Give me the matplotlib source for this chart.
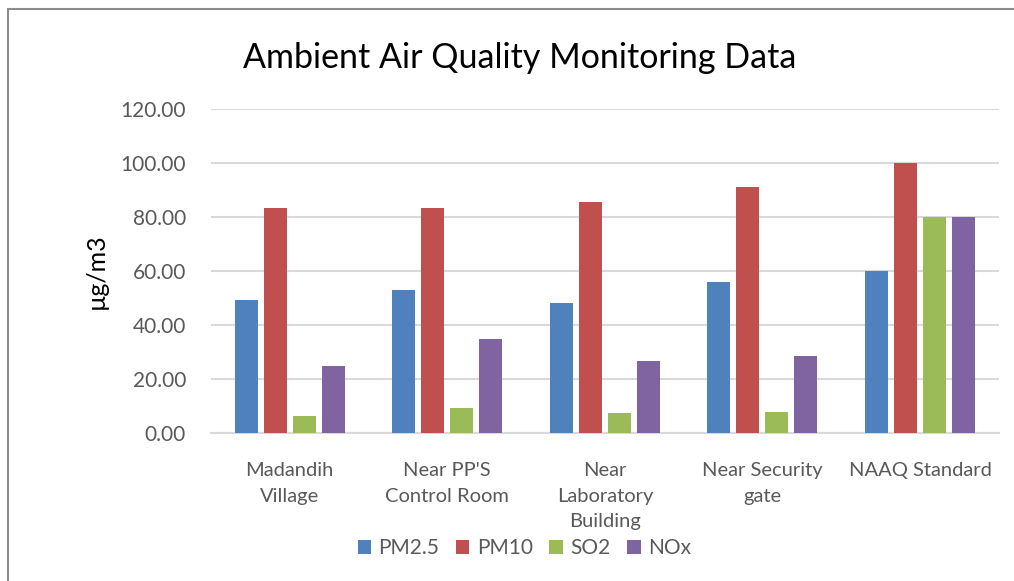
import matplotlib
matplotlib.use("Agg")
import matplotlib.pyplot as plt
from matplotlib.patches import Rectangle
import numpy as np

plt.rcParams['font.family'] = ['Lato', 'DejaVu Sans']

categories = ["Madandih\nVillage", "Near PP'S\nControl Room", "Near\nLaboratory\nBuilding",
              "Near Security\ngate", "NAAQ Standard"]
series = ["PM2.5", "PM10", "SO2", "NOx"]
pm25 = [49.3, 53.0, 48.1, 55.9, 60.0]
pm10 = [83.3, 83.3, 85.6, 91.1, 100.0]
so2 = [6.3, 9.4, 7.4, 7.8, 80.0]
nox = [24.8, 34.8, 26.7, 28.5, 80.0]
colors = ["#4F81BD", "#C0504D", "#9BBB59", "#8064A2"]
yticks = [0, 20, 40, 60, 80, 100, 120]

fig = plt.figure(figsize=(10.14, 5.81), dpi=100)
ax = fig.add_axes([0.208, 0.2547, 0.777, 0.5577])

x = np.arange(len(categories))
width = 0.146
pitch = 0.184
for i, (vals, c, name) in enumerate(zip([pm25, pm10, so2, nox], colors, series)):
    ax.bar(x + (i - 1.5) * pitch, vals, width, color=c, label=name, zorder=3)

ax.set_xlim(-0.5, len(categories) - 0.5)
ax.set_ylim(0, 120)
ax.set_yticks(yticks)
ax.set_yticklabels([f"{v:.2f}" for v in yticks], fontsize=15, color="#595959")
ax.set_xticks(x)
ax.set_xticklabels(categories, fontsize=14.5, color="#595959", linespacing=1.6)
ax.tick_params(axis='both', length=0)
ax.tick_params(axis='y', pad=18)
ax.tick_params(axis='x', pad=21)
ax.grid(axis='y', color="#d9d9d9", linewidth=1.5, zorder=0)
for s in ['top', 'right', 'left']:
    ax.spines[s].set_visible(False)
ax.spines['bottom'].set_color("#d9d9d9")
ax.spines['bottom'].set_linewidth(1.5)

ax.set_ylabel("µg/m3", fontsize=18, color="black", labelpad=9)

fig.text(0.513, 0.9, "Ambient Air Quality Monitoring Data", fontsize=24.5,
         ha='center', va='center', color="black")

leg = fig.legend(loc='center', bbox_to_anchor=(0.517, 0.057), ncol=4, frameon=False,
                 fontsize=15, handlelength=0.65, handleheight=0.65, columnspacing=0.8,
                 handletextpad=0.35)
for t in leg.get_texts():
    t.set_color("#595959")

# chart border
fig.patches.append(Rectangle((8 / 1014, -0.1), 1.2, 1 - 9 / 581 + 0.1,
                             transform=fig.transFigure, fill=False,
                             edgecolor="#8c8c8c", linewidth=1.5))

fig.savefig("out.png", dpi=100)
